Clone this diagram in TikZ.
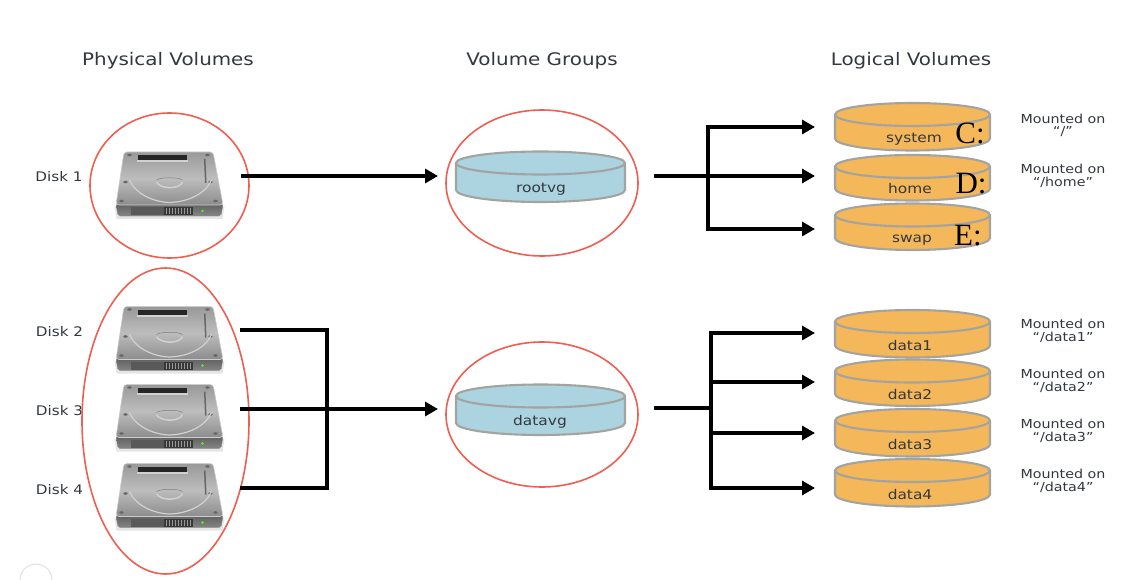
\documentclass[tikz,border=0pt]{standalone}
\usepackage{fontspec}
\setmainfont[FakeStretch=1.15]{DejaVu Sans}
\newfontfamily\serifcap{Liberation Serif}
\usetikzlibrary{arrows.meta,calc,shapes.geometric}
\definecolor{ringred}{HTML}{EE5F52}
\definecolor{cylorange}{HTML}{F4B75A}
\definecolor{cylblue}{HTML}{ABD4E0}
\definecolor{rimgrey}{HTML}{A3A3A0}
\definecolor{inkgrey}{HTML}{33383E}
\tikzset{
  ring/.style={draw=ringred,line width=1.6pt,ellipse,inner sep=0pt},
  title/.style={text=inkgrey,font=\fontsize{17.3}{19}\selectfont,inner sep=0pt},
  disklabel/.style={text=inkgrey,font=\fontsize{13.2}{15}\selectfont,inner sep=0pt},
  cyllabel/.style={text=inkgrey,font=\fontsize{13.4}{15}\selectfont,inner sep=0pt},
  mountlabel/.style={text=inkgrey,font=\fontsize{12.4}{12.5}\selectfont,align=center,inner sep=0pt},
  driveletter/.style={text=black,font=\serifcap\fontsize{31}{33}\selectfont,inner sep=0pt},
  link/.style={draw=black,line width=3.2pt},
  arrowlink/.style={link,-{Triangle[length=13pt,width=14pt]},shorten >=0pt},
  pics/cyl/.style n args={3}{code={
    % #1 half width, #2 body height, #3 colour
    \path[fill=#3,draw=rimgrey,line width=2.1pt]
      (-#1,0) -- (-#1,#2) arc[x radius=#1,y radius=12,start angle=180,end angle=0]
      -- (#1,0) arc[x radius=#1,y radius=11.5,start angle=0,end angle=-180] -- cycle;
    \path[draw=rimgrey,line width=2.1pt] (-#1,0) arc[x radius=#1,y radius=11.5,start angle=180,end angle=0];
  }},
  pics/hdd/.style={code={
    \fill[black!10] (-55,22) -- (-53,35) -- (53,35) -- (55,22) -- cycle;
    \path[rounded corners=2pt,top color=black!62,bottom color=black!48,draw=black!45,line width=.4pt]
      (-53.5,20) -- (-51.5,32) -- (51.5,32) -- (53.5,20) -- cycle;
    \path[rounded corners=3pt,draw=black!20,line width=.6pt,top color=black!40,bottom color=black!45,middle color=black!26]
      (-45.5,-32) -- (43.5,-32) -- (53.5,21) -- (-53.5,21) -- cycle;
    \fill[black!85] (-32,-29) rectangle (17,-24);
    \fill[white!82!black] (-33,-23.5) rectangle (18,-21.5);
    \fill[black!60] (34.5,-25) -- (36,-25) -- (37,-1) -- (35.5,-1) -- cycle;
    \foreach \p in {(-40,-29),(38,-29),(-44,-2),(41,-2),(-48,17),(46,17)}
      \fill[black!60] \p circle[x radius=2.2,y radius=1.3];
    \draw[white!82!black,line width=1.2pt] (-40,-4) .. controls (-34,10) and (-16,18) .. (0,18.5) .. controls (18,18) and (36,10) .. (42,-4);
    \draw[white!82!black,line width=1.5pt] (-13,-2) .. controls (-10,5) and (10,6) .. (13,-2);
    \draw[black!50,line width=.5pt] (-13,-4) .. controls (-9,-7) and (9,-7) .. (13,-4);
    \fill[black!65] (-39,23) rectangle (-6,31);
    \fill[black!78] (-6,23) rectangle (23,31);
    \foreach \i in {0,...,8} \fill[black!40] ({-4+\i*3},24) rectangle ({-3+\i*3},30);
    \fill[green!70!yellow] (33,27) circle[radius=1.3];
  }}
}
\begin{document}
\begin{tikzpicture}[x=1pt,y=-1pt]
\useasboundingbox (0,0) rectangle (1129,580);
\fill[white] (0,0) rectangle (1129,580);

% faint corner artefact
\draw[black!12,line width=1pt] (20,580) arc[radius=16,start angle=180,end angle=360];

% titles
\node[title] (tPhys) at (168,60.5) {Physical Volumes};
\node[title] (tGroup) at (542,60.5) {Volume Groups};
\node[title] (tLog) at (911,60.5) {Logical Volumes};

% disks
\pic at (169.5,184) {hdd};
\pic at (169.5,338.5) {hdd};
\pic at (169.5,416.5) {hdd};
\pic at (169.5,495.5) {hdd};
\node[disklabel] (d1) at (59,176.5) {Disk 1};
\node[disklabel] (d2) at (59.5,331.5) {Disk 2};
\node[disklabel] (d3) at (59.5,410.5) {Disk 3};
\node[disklabel] (d4) at (59.5,489.5) {Disk 4};

% rings
\node[ring,minimum width=159pt,minimum height=145pt] (rDisk1) at (169.5,185.5) {};
\node[ring,minimum width=167pt,minimum height=306pt] (rDisks) at (165.5,421) {};
\node[ring,minimum width=192pt,minimum height=146pt] (rRoot) at (542,183) {};
\node[ring,minimum width=192pt,minimum height=145pt] (rData) at (542,414.5) {};

% volume groups
\pic at (540.5,163) {cyl={84.5}{27}{cylblue}};
\pic at (540.5,396) {cyl={84.5}{27}{cylblue}};
\node[cyllabel] (rootvg) at (541,189) {rootvg};
\node[cyllabel] (datavg) at (540,422) {datavg};

% logical volumes
\pic at (912.5,114.5) {cyl={77.5}{24}{cylorange}};
\pic at (912.5,166.5) {cyl={77.5}{22}{cylorange}};
\pic at (912.5,215) {cyl={77.5}{23}{cylorange}};
\pic at (912.5,321.5) {cyl={77.5}{24}{cylorange}};
\pic at (912.5,371) {cyl={77.5}{23}{cylorange}};
\pic at (912.5,420.5) {cyl={77.5}{24}{cylorange}};
\pic at (912.5,470.5) {cyl={77.5}{24}{cylorange}};
\node[cyllabel] (system) at (914,139) {system};
\node[cyllabel] (home) at (910,189) {home};
\node[cyllabel] (swap) at (912,240) {swap};
\node[cyllabel] (data1) at (910,346) {data1};
\node[cyllabel] (data2) at (910,395) {data2};
\node[cyllabel] (data3) at (910,445) {data3};
\node[cyllabel] (data4) at (910,494) {data4};
\node[driveletter] (cC) at (970,133) {C:};
\node[driveletter] (cD) at (971,184) {D:};
\node[driveletter] (cE) at (968,236) {E:};

% mount labels
\node[mountlabel] (m1) at (1063,125.5) {Mounted on\\``/''};
\node[mountlabel] (m2) at (1063,176) {Mounted on\\``/home''};
\node[mountlabel] (m3) at (1063,331) {Mounted on\\``/data1''};
\node[mountlabel] (m4) at (1063,381) {Mounted on\\``/data2''};
\node[mountlabel] (m5) at (1063,431) {Mounted on\\``/data3''};
\node[mountlabel] (m6) at (1063,481) {Mounted on\\``/data4''};

% connector ends
\coordinate (o1) at (241,176);
\coordinate (i1) at (438,176);
\coordinate (o2) at (240,330);
\coordinate (o3) at (240,409);
\coordinate (o4) at (240,488);
\coordinate (i2) at (438,409);
\coordinate (v1) at (327,330);
\coordinate (v2) at (327,488);
\coordinate (rs) at (654,176);
\coordinate (rb) at (708,176);
\coordinate (rt) at (708,127);
\coordinate (rm) at (708,229);
\coordinate (a1) at (815,127);
\coordinate (a2) at (815,176);
\coordinate (a3) at (815,229);
\coordinate (ds) at (654,408);
\coordinate (db) at (711,408);
\coordinate (dt) at (711,333);
\coordinate (d2b) at (711,382);
\coordinate (d3b) at (711,433);
\coordinate (dm) at (711,488);
\coordinate (b1) at (815,333);
\coordinate (b2) at (815,382);
\coordinate (b3) at (815,433);
\coordinate (b4) at (815,488);

% connectors
\draw[arrowlink] (rt) ++(-1.6,0) -- (a1);
\draw[arrowlink] (o1) -- (i1);
\draw[link,line join=miter] (o2) -- (v1) -- (v2) -- (o4);
\draw[arrowlink] (o3) -- (i2);
\draw[link] (rs) -- (rb);
\draw[arrowlink] (rb) -- (a2);
\draw[arrowlink] (rm) ++(-1.6,0) -- (a3);
\draw[link] (rt) -- (rm);
\draw[link] (ds) -- (db);
\draw[link] (dt) -- (dm);
\draw[arrowlink] (dt) ++(-1.6,0) -- (b1);
\draw[arrowlink] (d2b) -- (b2);
\draw[arrowlink] (d3b) -- (b3);
\draw[arrowlink] (dm) ++(-1.6,0) -- (b4);
\end{tikzpicture}
\end{document}
